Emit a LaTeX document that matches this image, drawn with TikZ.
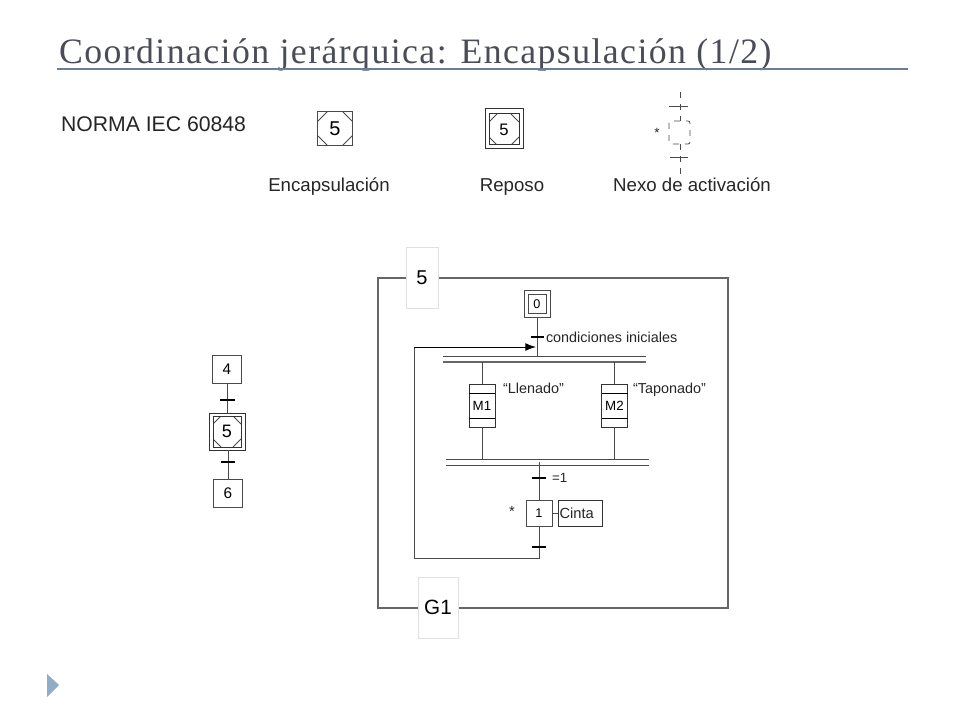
\documentclass[tikz,border=0pt]{standalone}
\usepackage{fontspec}
\setmainfont{Liberation Sans}
\newfontfamily\titlefont[LetterSpace=4]{Liberation Serif}
\usetikzlibrary{arrows.meta}
\newcommand{\fs}[1]{\fontsize{#1pt}{#1pt}\selectfont}
\definecolor{titlecol}{HTML}{4A4D57}
\definecolor{rulecol}{HTML}{6F7C99}
\definecolor{markcol}{HTML}{8FADC8}
\definecolor{linecol}{HTML}{4A4A4A}
\definecolor{framecol}{HTML}{666666}
\tikzset{
  x=0.75pt,y=-0.75pt,
  lbl/.style={inner sep=0,outer sep=0,text=black!85},
  wire/.style={draw=linecol,line width=0.75pt},
  bar/.style={draw=black,line width=1pt},
  stepbox/.style={draw=linecol,line width=0.75pt,inner sep=0,outer sep=0,minimum width=#1*0.75pt,minimum height=#1*0.75pt,fill=white},
  sized/.style n args={2}{draw=black!80,line width=0.75pt,inner sep=0,outer sep=0,minimum width=#1*0.75pt,minimum height=#2*0.75pt,fill=white},
  corners/.style={path picture={
    \draw[linecol,line width=0.6pt]
      (path picture bounding box.north west)++(#1,0) -- ++(-#1,#1)
      (path picture bounding box.north east)++(-#1,0) -- ++(#1,#1)
      (path picture bounding box.south west)++(#1,0) -- ++(-#1,-#1)
      (path picture bounding box.south east)++(-#1,0) -- ++(#1,-#1);}},
  tab/.style={draw=black!12,line width=0.6pt,fill=white,inner sep=0,outer sep=0},
  framewire/.style={draw=framecol,line width=1pt},
  dashedwire/.style={draw=linecol,line width=0.6pt,dash pattern=on 4.5pt off 4.5pt},
}
\begin{document}
\begin{tikzpicture}
\useasboundingbox (0,0) rectangle (960,720);
\fill[white] (0,0) rectangle (960,720);
% title
\node[lbl,anchor=base west,text=titlecol] (title) at (59,63.5) {\titlefont\fs{26.8}Coordinación jerárquica: Encapsulación (1/2)};
\coordinate (ruleL) at (57,69); \coordinate (ruleR) at (908,69);
\draw[rulecol,line width=1.5pt] (ruleL) -- (ruleR);
\fill[markcol] (47,674) -- (59,685) -- (47,697) -- cycle;
% header row
\node[lbl,anchor=base west] (norma) at (61,131.5) {\fs{15.9}NORMA IEC 60848};
\node[stepbox=34.5,corners=10] (encsym) at (335,128.5) {\fs{15}5};
\node[sized={38}{40}] (repout) at (504,129) {};
\node[sized={30}{31},corners=8] (repin) at (504,129.5) {\fs{12.5}5};
\node[lbl,anchor=base] (lenc) at (329,192) {\fs{14}Encapsulación};
\node[lbl,anchor=base] (lrep) at (512,192) {\fs{14}Reposo};
\node[lbl,anchor=base] (lnex) at (692,192) {\fs{14}Nexo de activación};
% nexo
\coordinate (nA) at (680,92); \coordinate (nB) at (680,121);
\coordinate (nC) at (680,144); \coordinate (nD) at (680,174);
\coordinate (nT1l) at (669,107); \coordinate (nT1r) at (688,107);
\coordinate (nT2l) at (670,158); \coordinate (nT2r) at (688,158);
\coordinate (nBoxA) at (669,121); \coordinate (nBoxB) at (690,144);
\draw[dashedwire] (nA) -- (nB);
\draw[dashedwire] (nC) -- (nD);
\draw[dashedwire,rounded corners=1.5pt] (nBoxA) rectangle (nBoxB);
\draw[draw=linecol,line width=0.75pt] (nT1l) -- (nT1r);
\draw[draw=linecol,line width=0.75pt] (nT2l) -- (nT2r);
\node[lbl] (nstar) at (657,133) {\fs{10}*};
% left chain
\node[stepbox=28.5] (s4) at (227,369.5) {\fs{11.5}4};
\node[sized={36}{37}] (s5out) at (227,431.5) {};
\node[sized={28}{31},corners=8] (s5in) at (227,431.5) {\fs{13.5}5};
\node[stepbox=28.5] (s6) at (228,493.5) {\fs{11.5}6};
\draw[wire] (s4) -- (s5out);
\draw[wire] (s5out) -- (s6 |- s5out.south) -- (s6);
\coordinate (t45l) at (220,400); \coordinate (t45r) at (235,400);
\coordinate (t56l) at (220.5,462); \coordinate (t56r) at (235,462);
\draw[bar] (t45l) -- (t45r);
\draw[bar] (t56l) -- (t56r);
% main frame
\coordinate (fTL) at (378,278); \coordinate (fBR) at (728,608);
\draw[framewire] (fTL) rectangle (fBR);
\node[tab,minimum width=24pt,minimum height=45.75pt] (tab5) at (422,277.5) {\fs{15}5};
\node[tab,minimum width=30pt,minimum height=45.75pt] (tabG) at (438,607.5) {\fs{15.5}G1};
% step 0
\node[stepbox=26] (s0out) at (537,304) {};
\node[stepbox=18] (s0) at (537,304) {\fs{9.5}0};
\coordinate (db1a) at (537,356);
\draw[wire] (s0out) -- (db1a);
\coordinate (t0l) at (531,337); \coordinate (t0r) at (544,337);
\draw[bar] (t0l) -- (t0r);
\node[lbl,anchor=base west] (cond) at (546,342) {\fs{10.8}condiciones iniciales};
% double bars
\coordinate (b1al) at (443,356); \coordinate (b1ar) at (646,356);
\coordinate (b1bl) at (443,362); \coordinate (b1br) at (646,362);
\coordinate (b2al) at (446,459); \coordinate (b2ar) at (649,459);
\coordinate (b2bl) at (446,465); \coordinate (b2br) at (649,465);
\draw[wire] (b1al) -- (b1ar);
\draw[draw=framecol,line width=1.1pt] (b1bl) -- (b1br);
\draw[wire] (b2al) -- (b2ar);
\draw[wire] (b2bl) -- (b2br);
% M steps
\node[sized={26}{43}] (m1) at (482,405.5) {\fs{10}M1};
\node[sized={26}{43}] (m2) at (614.5,405.5) {\fs{10}M2};
\draw[wire,draw=black] (m1.west |- 0,393) -- (m1.east |- 0,393);
\draw[wire,draw=black] (m1.west |- 0,418) -- (m1.east |- 0,418);
\draw[wire,draw=black] (m2.west |- 0,393) -- (m2.east |- 0,393);
\draw[wire,draw=black] (m2.west |- 0,418) -- (m2.east |- 0,418);
\draw[wire] (m1.north) -- (m1.north |- b1bl);
\draw[wire] (m2.north) -- (m2.north |- b1bl);
\draw[wire] (m1.south) -- (m1.south |- b2al);
\draw[wire] (m2.south) -- (m2.south |- b2al);
\node[lbl,anchor=base west] (ll) at (503,393.5) {\fs{10.8}“Llenado”};
\node[lbl,anchor=base west] (lt) at (633,393.5) {\fs{10.8}“Taponado”};
% step 1
\node[stepbox=26] (s1) at (539,513) {\fs{9.5}1};
\node[sized={44}{26}] (cinta) at (580,513) {};
\node[lbl,anchor=base west] (cintat) at (559.5,518) {\fs{11}Cinta};
\node[lbl] (star1) at (512,511) {\fs{11}*};
\draw[wire] (s1) -- (cinta);
\coordinate (j1) at (539,462); \coordinate (j2) at (539,558);
\coordinate (j3) at (414,558); \coordinate (j4) at (414,347);
\coordinate (arrowtip) at (536,347);
\draw[wire] (j1) -- (s1);
\draw[wire] (s1) -- (j2) -- (j3) -- (j4);
\draw[line width=0.75pt,-{Latex[length=8pt,width=6pt]}] (j4) -- (arrowtip);
\coordinate (t1l) at (532,478); \coordinate (t1r) at (546,478);
\coordinate (t2l) at (532,547); \coordinate (t2r) at (546,547);
\draw[bar] (t1l) -- (t1r);
\draw[bar] (t2l) -- (t2r);
\node[lbl,anchor=base west] (eq1) at (552,482) {\fs{10}=1};
\end{tikzpicture}
\end{document}
